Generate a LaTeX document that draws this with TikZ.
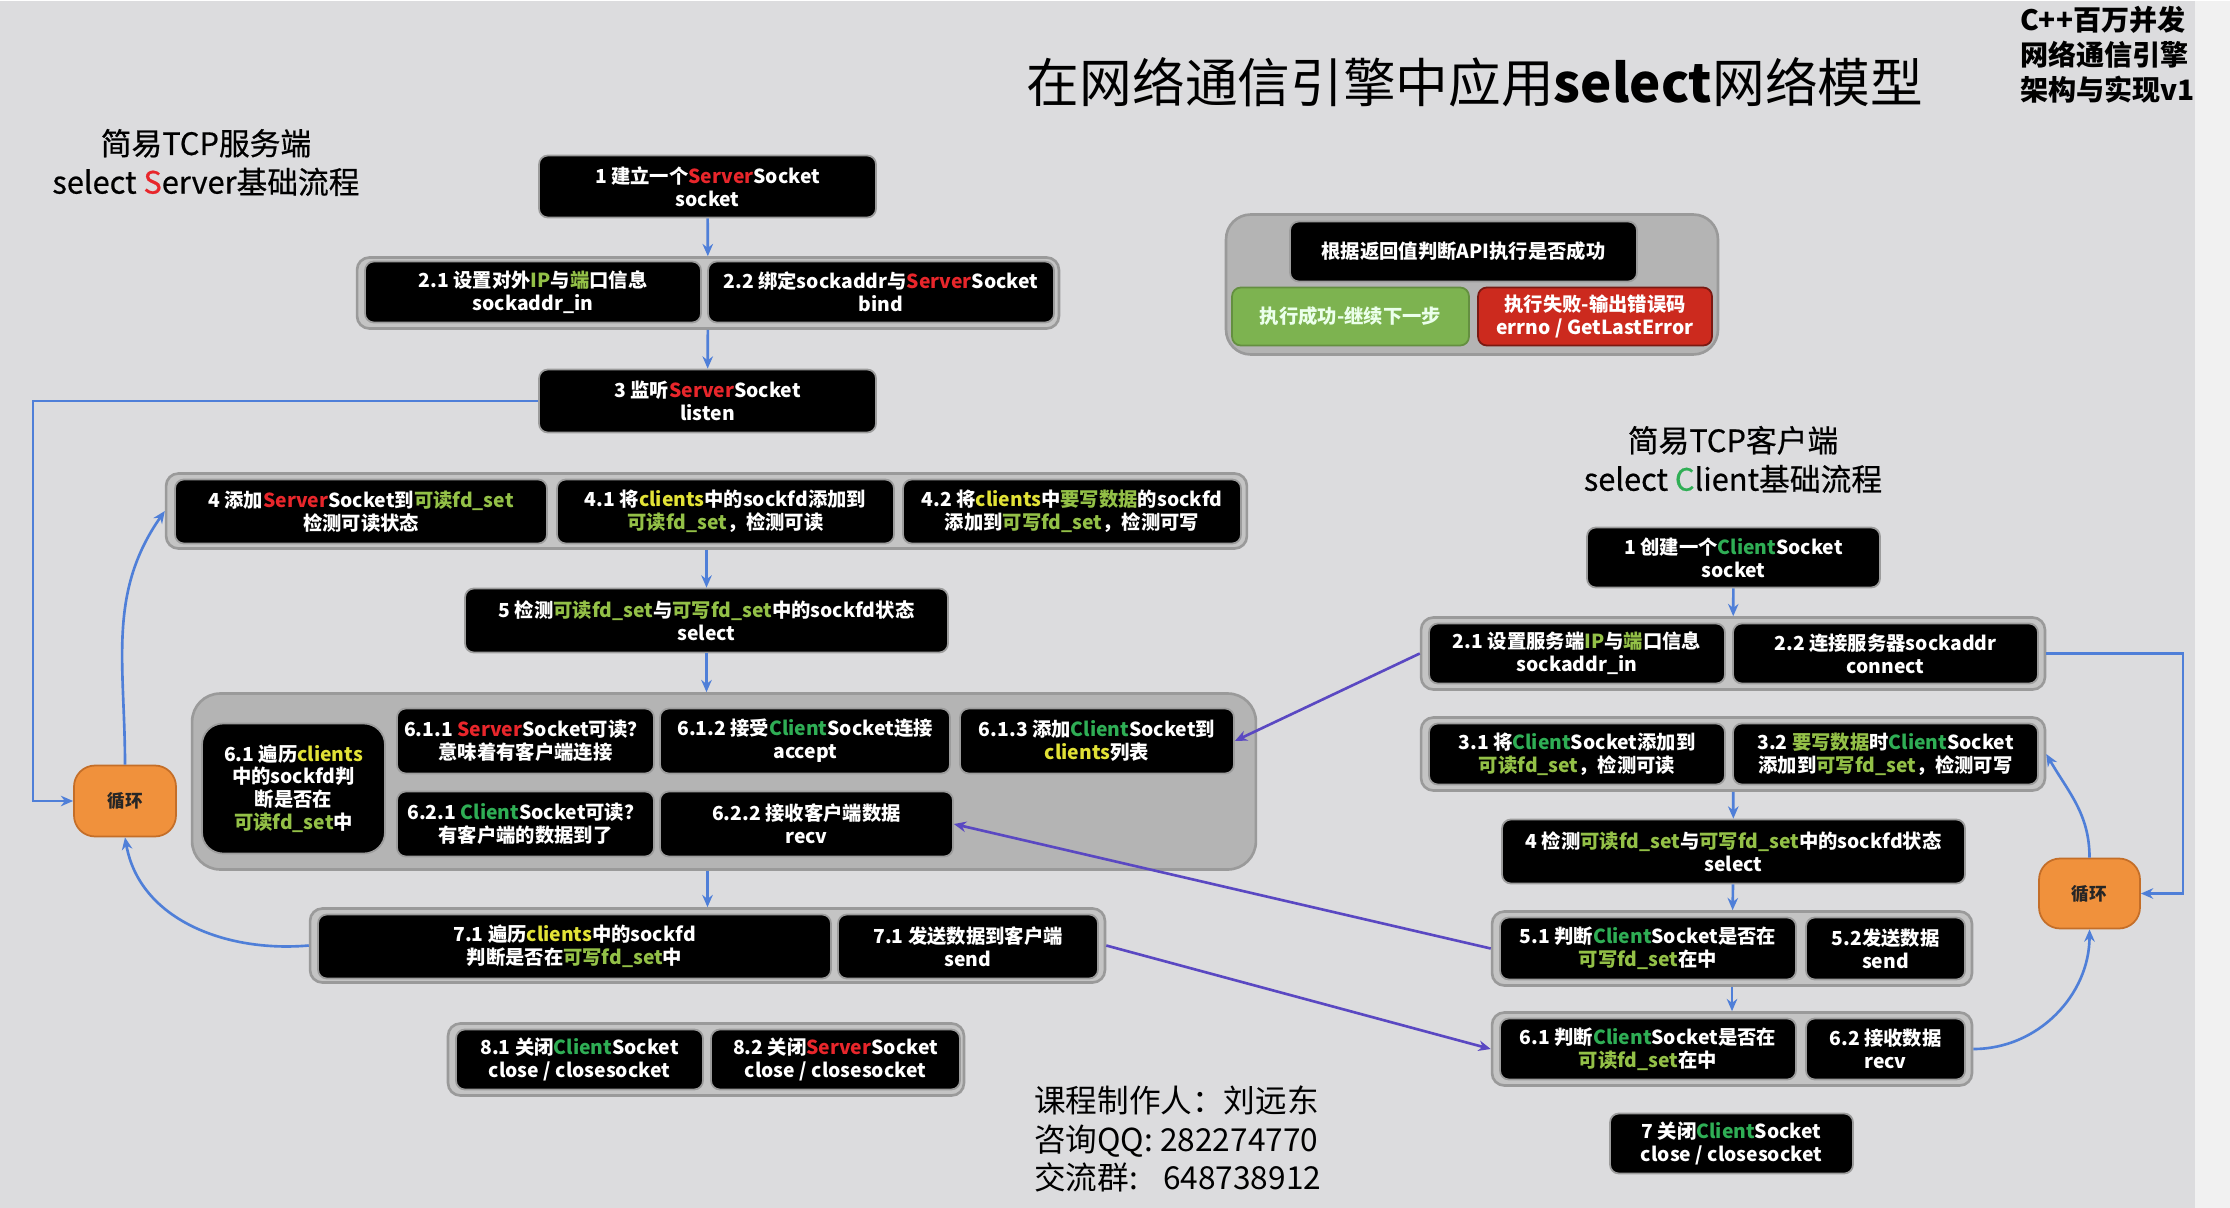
\documentclass[tikz,border=0pt]{standalone}
\usepackage{fontspec}
\setmainfont{Noto Sans CJK SC}
\newfontfamily\headfont[FakeBold=0.6]{Noto Sans CJK SC}
\usepackage{tikz}
\usetikzlibrary{arrows.meta}
\usepackage{xcolor}

\definecolor{bggray}{HTML}{DCDCDE}
\definecolor{stripw}{HTML}{F1F1F1}
\definecolor{boxedge}{HTML}{9C9C9C}
\definecolor{grpfill}{HTML}{C4C4C4}
\definecolor{grpedge}{HTML}{9A9A9A}
\definecolor{bigfill}{HTML}{B4B4B4}
\definecolor{loopfill}{HTML}{F0913C}
\definecolor{loopedge}{HTML}{C46E28}
\definecolor{flowblue}{HTML}{4F7FD8}
\definecolor{crossblue}{HTML}{5A48C2}
\definecolor{srvred}{HTML}{E8262B}
\definecolor{cligreen}{HTML}{2FAE55}
\definecolor{clsyellow}{HTML}{E2E236}
\definecolor{fdgreen}{HTML}{93C047}
\definecolor{okgreen}{HTML}{7DB350}
\definecolor{badred}{HTML}{CC2A1E}

\newcommand{\srvw}{{\color{srvred}Server}}
\newcommand{\cliw}{{\color{cligreen}Client}}
\newcommand{\clsw}{{\color{clsyellow}clients}}
\newcommand{\fdc}[1]{{\color{fdgreen}#1}}

\begin{document}
\begin{tikzpicture}[x=0.02cm, y=-0.02cm, >={Stealth[length=7pt,width=6pt]},
          every node/.style={align=center},
          boxsize/.style 2 args={minimum width=#1cm, minimum height=#2cm},
          box/.style={draw=boxedge, fill=black, text=white, rounded corners=5pt,
                      line width=1pt, inner sep=1pt,
                      font=\fontsize{11}{13}\selectfont\bfseries},
          grp/.style={draw=grpedge, fill=grpfill, rounded corners=7pt, line width=1.5pt},
          loopnode/.style={draw=loopedge, fill=loopfill, rounded corners=12pt, line width=1pt,
                      font=\fontsize{10}{12}\selectfont\bfseries, text=black!85},
          flow/.style={->, draw=flowblue, line width=1.5pt},
          cross/.style={->, draw=crossblue, line width=1.5pt}]
        \fill[bggray] (0,0) rectangle (2230,1206);
        \fill[stripw] (2195,0) rectangle (2230,1206);

        % titles
        \node[font=\fontsize{30}{36}\selectfont] (title) at (1475,81)
            {在网络通信引擎中应用\textbf{select}网络模型};
        \node[font=\fontsize{16}{20}\selectfont\bfseries, align=left, anchor=west] (course) at (2014,53)
            {C++百万并发\\网络通信引擎\\架构与实现v1};
        \node[font=\headfont\fontsize{17.5}{22}\selectfont] (srvhead) at (206,161)
            {简易TCP服务端\\select {\color{srvred}S}erver基础流程};
        \node[font=\headfont\fontsize{17.5}{22}\selectfont] (clihead) at (1733,458)
            {简易TCP客户端\\select {\color{cligreen}C}lient基础流程};
        \node[font=\fontsize{18}{22}\selectfont, align=left, anchor=north west] (author) at (1028,1078)
            {课程制作人：刘远东\\咨询QQ: 282274770\\交流群:\hspace{0.8em}648738912};

        % server groups
        \node[grp, boxsize={14.04}{1.42}] (g2) at (708,291.5) {};
        \node[grp, boxsize={21.62}{1.5}]  (g4) at (706.5,509.5) {};
        \node[grp, fill=bigfill, rounded corners=16pt, boxsize={21.28}{3.52}] (g6) at (724,780) {};
        \node[grp, boxsize={15.9}{1.48}]  (g7) at (707.5,944) {};
        \node[grp, boxsize={10.32}{1.44}] (g8) at (706,1058) {};

        % server steps
        \node[box, boxsize={6.74}{1.24}] (s1) at (707.5,185) {1 建立一个\srvw Socket\\socket};
        \node[box, boxsize={6.72}{1.22}] (s21) at (533,290.5) {2.1 设置对外\fdc{IP}与\fdc{端}口信息\\sockaddr\_in};
        \node[box, boxsize={6.92}{1.22}] (s22) at (881,290.5) {2.2 绑定sockaddr与\srvw Socket\\bind};
        \node[box, boxsize={6.74}{1.26}] (s3) at (707.5,399.5) {3 监听\srvw Socket\\listen};
        \node[box, boxsize={7.44}{1.28}] (s4) at (361,510) {4 添加\srvw Socket到\fdc{可读fd\_set}\\检测可读状态};
        \node[box, boxsize={6.74}{1.28}] (s41) at (725.5,510) {4.1 将\clsw 中的sockfd添加到\\\fdc{可读fd\_set}，检测可读};
        \node[box, boxsize={6.76}{1.28}] (s42) at (1072,510) {4.2 将\clsw 中\fdc{要写数据}的sockfd\\添加到\fdc{可写fd\_set}，检测可写};
        \node[box, boxsize={9.66}{1.28}] (s5) at (706.5,619) {5 检测\fdc{可读fd\_set}与\fdc{可写fd\_set}中的sockfd状态\\select};
        \node[box, rounded corners=12pt, boxsize={3.66}{2.6}] (s61) at (293.5,787)
            {6.1 遍历\clsw\\中的sockfd判\\断是否在\\\fdc{可读fd\_set}中};
        \node[box, boxsize={5.14}{1.3}] (s611) at (525.5,739.5) {6.1.1 \srvw Socket可读？\\意味着有客户端连接};
        \node[box, boxsize={5.8}{1.3}]  (s612) at (805,739.5) {6.1.2 接受\cliw Socket连接\\accept};
        \node[box, boxsize={5.48}{1.3}] (s613) at (1097,739.5) {6.1.3 添加\cliw Socket到\\\clsw 列表};
        \node[box, boxsize={5.14}{1.3}] (s621) at (525.5,822.5) {6.2.1 \cliw Socket可读？\\有客户端的数据到了};
        \node[box, boxsize={5.86}{1.3}] (s622) at (806.5,822.5) {6.2.2 接收客户端数据\\recv};
        \node[box, boxsize={10.26}{1.28}] (s71) at (574.5,945) {7.1 遍历\clsw 中的sockfd\\判断是否在\fdc{可写fd\_set}中};
        \node[box, boxsize={5.2}{1.28}]  (s72) at (968,945) {7.1 发送数据到客户端\\send};
        \node[box, boxsize={4.94}{1.2}] (s81) at (579.5,1058) {8.1 关闭\cliw Socket\\close / closesocket};
        \node[box, boxsize={4.98}{1.2}] (s82) at (835.5,1058) {8.2 关闭\srvw Socket\\close / closesocket};
        \node[loopnode, boxsize={2.04}{1.42}] (loopS) at (125,799.5) {循环};

        % api result
        \node[grp, fill=grpfill!92!black, rounded corners=14pt, boxsize={9.84}{2.8}] (ga) at (1472,283) {};
        \node[box, boxsize={6.94}{1.2}] (api) at (1463.5,250) {根据返回值判断API执行是否成功};
        \node[box, fill=okgreen, draw=okgreen!80!black, text=white!92!green, boxsize={4.74}{1.16}] (apiok)
            at (1350.5,315) {执行成功-继续下一步};
        \node[box, fill=badred, draw=badred!60!black, boxsize={4.68}{1.16}] (apibad)
            at (1595,315) {执行失败-输出错误码\\errno / GetLastError};

        % client groups
        \node[grp, boxsize={12.48}{1.44}] (gc2) at (1733,652) {};
        \node[grp, boxsize={12.48}{1.46}] (gc3) at (1733,752.5) {};
        \node[grp, boxsize={9.6}{1.48}]   (gc5) at (1732,947) {};
        \node[grp, boxsize={9.6}{1.46}]   (gc6) at (1732,1047.5) {};

        % client steps
        \node[box, boxsize={5.86}{1.2}] (c1) at (1733.5,556) {1 创建一个\cliw Socket\\socket};
        \node[box, boxsize={5.92}{1.2}] (c21) at (1577,652) {2.1 设置服务端\fdc{IP}与\fdc{端}口信息\\sockaddr\_in};
        \node[box, boxsize={6.1}{1.2}]  (c22) at (1885.5,652) {2.2 连接服务器sockaddr\\connect};
        \node[box, boxsize={5.92}{1.22}] (c31) at (1577,752.5) {3.1 将\cliw Socket添加到\\\fdc{可读fd\_set}，检测可读};
        \node[box, boxsize={6.1}{1.22}]  (c32) at (1885.5,752.5) {3.2 \fdc{要写数据}时\cliw Socket\\添加到\fdc{可写fd\_set}，检测可写};
        \node[box, boxsize={9.26}{1.28}] (c4) at (1733.5,850) {4 检测\fdc{可读fd\_set}与\fdc{可写fd\_set}中的sockfd状态\\select};
        \node[box, boxsize={5.92}{1.24}] (c51) at (1648,947) {5.1 判断\cliw Socket是否在\\\fdc{可写fd\_set}在中};
        \node[box, boxsize={3.18}{1.24}] (c52) at (1885.5,947) {5.2发送数据\\send};
        \node[box, boxsize={5.92}{1.22}] (c61) at (1648,1047.5) {6.1 判断\cliw Socket是否在\\\fdc{可读fd\_set}在中};
        \node[box, boxsize={3.18}{1.22}] (c62) at (1885.5,1047.5) {6.2 接收数据\\recv};
        \node[box, boxsize={4.86}{1.2}] (c7) at (1731.5,1142) {7 关闭\cliw Socket\\close / closesocket};
        \node[loopnode, boxsize={2.02}{1.4}] (loopC) at (2089.5,892) {循环};

        % server flow
        \draw[flow] (s1) -- (g2);
        \draw[flow] (g2) -- (s3);
        \coordinate (lpS) at (33,399.5);
        \draw[flow] (s3.west) -- (lpS) |- (loopS.west);
        \draw[flow] (loopS.north) to[out=90,in=235] (g4.west);
        \draw[flow] (g7.west) to[out=185,in=-80] (loopS.south);
        \draw[flow] (g4) -- (s5);
        \draw[flow] (s5.south) -- (s5.south |- g6.north);
        \draw[flow] (g6.south -| g7.north) -- (g7.north);

        % client flow
        \draw[flow] (c1) -- (gc2);
        \draw[flow] (gc3) -- (c4);
        \draw[flow] (c4) -- (gc5);
        \draw[flow] (gc5) -- (gc6);
        \coordinate (lpC) at (2183,652);
        \draw[flow] (gc2.east) -- (lpC) |- (loopC.east);
        \draw[flow] (loopC.north) to[out=90,in=-60] (gc3.east);
        \draw[flow] (gc6.east) to[out=0,in=-90] (loopC.south);

        % between server and client
        \draw[cross] (gc2.west) -- (s613.east);
        \draw[cross] (gc5.west) -- (s622.east);
        \draw[cross] (g7.east) -- (gc6.west);
      \end{tikzpicture}
\end{document}
